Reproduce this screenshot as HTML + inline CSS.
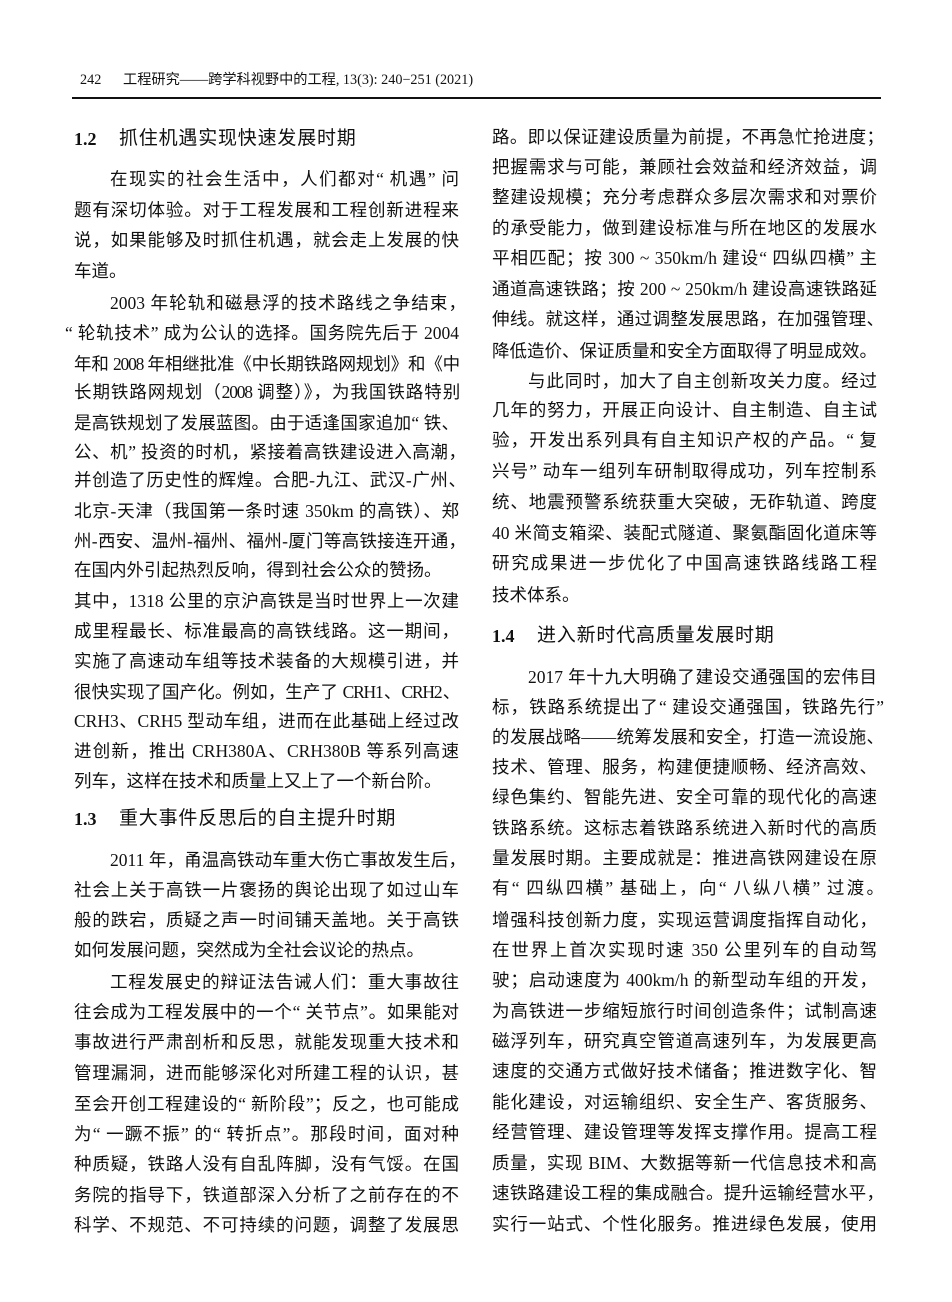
<!DOCTYPE html>
<html lang="zh-CN"><head><meta charset="utf-8"><style>
html,body{margin:0;padding:0;background:#fff}
body{position:relative;width:952px;height:1302px;overflow:hidden;color:#111;font-family:"Liberation Serif","Noto Sans CJK SC",sans-serif}
p{position:absolute;margin:0;height:30px;line-height:30px;font-size:17.5px;text-align:justify;text-align-last:justify;text-justify:inter-character;width:385px}
.a{left:74px}.b{left:492px}
.ai{left:110px;width:349px}.bi{left:528px;width:349px}
.x{width:392px}.ai.x,.bi.x{width:356px}
.e{text-align-last:left}
.t{letter-spacing:-1.2px}
.h{font-size:19px;letter-spacing:.8px;text-align-last:left}
.h b{position:absolute;left:0;font-size:18px;letter-spacing:0}
.h span{position:absolute;left:45px;white-space:nowrap}
</style></head><body>
<div style="position:absolute;left:80px;top:72px;font-size:14.2px;line-height:16px">242</div>
<div style="position:absolute;left:123px;top:72px;font-size:14.2px;line-height:16px;white-space:nowrap">工程研究——跨学科视野中的工程, 13(3): 240−251 (2021)</div>
<div style="position:absolute;left:72px;top:97px;width:809px;height:1.5px;background:#111"></div>

<p class="a h" style="top:124px"><b>1.2</b><span>抓住机遇实现快速发展时期</span></p>
<p class="ai" style="top:164px">在现实的社会生活中，人们都对“ 机遇” 问</p>
<p class="a" style="top:195px">题有深切体验。对于工程发展和工程创新进程来</p>
<p class="a" style="top:225px">说，如果能够及时抓住机遇，就会走上发展的快</p>
<p class="a e" style="top:256px">车道。</p>
<p class="ai x" style="top:288px">2003 年轮轨和磁悬浮的技术路线之争结束，</p>
<p style="left:65px;width:394px;top:318px">“ 轮轨技术” 成为公认的选择。国务院先后于 2004</p>
<p class="a t" style="top:349px">年和 2008 年相继批准《中长期铁路网规划》和《中</p>
<p class="a t" style="top:377px">长期铁路网规划（2008 调整）》，为我国铁路特别</p>
<p class="a" style="top:408px">是高铁规划了发展蓝图。由于适逢国家追加“ 铁、</p>
<p class="a x" style="top:437px">公、机” 投资的时机，紧接着高铁建设进入高潮，</p>
<p class="a x" style="top:465px">并创造了历史性的辉煌。合肥-九江、武汉-广州、</p>
<p class="a" style="top:496px">北京-天津（我国第一条时速 350km 的高铁）、郑</p>
<p class="a x" style="top:526px">州-西安、温州-福州、福州-厦门等高铁接连开通，</p>
<p class="a e" style="top:555px">在国内外引起热烈反响，得到社会公众的赞扬。</p>
<p class="a" style="top:586px">其中，1318 公里的京沪高铁是当时世界上一次建</p>
<p class="a" style="top:616px">成里程最长、标准最高的高铁线路。这一期间，</p>
<p class="a" style="top:646px">实施了高速动车组等技术装备的大规模引进，并</p>
<p class="a t" style="top:677px">很快实现了国产化。例如，生产了 CRH1、CRH2、</p>
<p class="a" style="top:706px">CRH3、CRH5 型动车组，进而在此基础上经过改</p>
<p class="a" style="top:736px">进创新，推出 CRH380A、CRH380B 等系列高速</p>
<p class="a e" style="top:766px">列车，这样在技术和质量上又上了一个新台阶。</p>

<p class="a h" style="top:804px"><b>1.3</b><span>重大事件反思后的自主提升时期</span></p>
<p class="ai x" style="top:845px">2011 年，甬温高铁动车重大伤亡事故发生后，</p>
<p class="a" style="top:875px">社会上关于高铁一片褒扬的舆论出现了如过山车</p>
<p class="a" style="top:905px">般的跌宕，质疑之声一时间铺天盖地。关于高铁</p>
<p class="a e" style="top:935px">如何发展问题，突然成为全社会议论的热点。</p>
<p class="ai" style="top:967px">工程发展史的辩证法告诫人们：重大事故往</p>
<p class="a" style="top:997px">往会成为工程发展中的一个“ 关节点”。如果能对</p>
<p class="a" style="top:1027px">事故进行严肃剖析和反思，就能发现重大技术和</p>
<p class="a" style="top:1058px">管理漏洞，进而能够深化对所建工程的认识，甚</p>
<p class="a" style="top:1089px">至会开创工程建设的“ 新阶段”；反之，也可能成</p>
<p class="a" style="top:1119px">为“ 一蹶不振” 的“ 转折点”。那段时间，面对种</p>
<p class="a" style="top:1149px">种质疑，铁路人没有自乱阵脚，没有气馁。在国</p>
<p class="a" style="top:1180px">务院的指导下，铁道部深入分析了之前存在的不</p>
<p class="a" style="top:1210px">科学、不规范、不可持续的问题，调整了发展思</p>

<p class="b x" style="top:122px">路。即以保证建设质量为前提，不再急忙抢进度；</p>
<p class="b" style="top:152px">把握需求与可能，兼顾社会效益和经济效益，调</p>
<p class="b" style="top:182px">整建设规模；充分考虑群众多层次需求和对票价</p>
<p class="b" style="top:213px">的承受能力，做到建设标准与所在地区的发展水</p>
<p class="b" style="top:243px">平相匹配；按 300 ~ 350km/h 建设“ 四纵四横” 主</p>
<p class="b" style="top:274px">通道高速铁路；按 200 ~ 250km/h 建设高速铁路延</p>
<p class="b x" style="top:304px">伸线。就这样，通过调整发展思路，在加强管理、</p>
<p class="b e" style="top:336px">降低造价、保证质量和安全方面取得了明显成效。</p>
<p class="bi" style="top:366px">与此同时，加大了自主创新攻关力度。经过</p>
<p class="b" style="top:395px">几年的努力，开展正向设计、自主制造、自主试</p>
<p class="b" style="top:425px">验，开发出系列具有自主知识产权的产品。“ 复</p>
<p class="b" style="top:456px">兴号” 动车一组列车研制取得成功，列车控制系</p>
<p class="b" style="top:487px">统、地震预警系统获重大突破，无砟轨道、跨度</p>
<p class="b" style="top:518px">40 米简支箱梁、装配式隧道、聚氨酯固化道床等</p>
<p class="b" style="top:548px">研究成果进一步优化了中国高速铁路线路工程</p>
<p class="b e" style="top:580px">技术体系。</p>

<p class="b h" style="top:621px"><b>1.4</b><span>进入新时代高质量发展时期</span></p>
<p class="bi" style="top:662px">2017 年十九大明确了建设交通强国的宏伟目</p>
<p class="b x" style="top:692px">标，铁路系统提出了“ 建设交通强国，铁路先行”</p>
<p class="b x" style="top:722px">的发展战略——统筹发展和安全，打造一流设施、</p>
<p class="b" style="top:752px">技术、管理、服务，构建便捷顺畅、经济高效、</p>
<p class="b" style="top:782px">绿色集约、智能先进、安全可靠的现代化的高速</p>
<p class="b" style="top:813px">铁路系统。这标志着铁路系统进入新时代的高质</p>
<p class="b" style="top:843px">量发展时期。主要成就是：推进高铁网建设在原</p>
<p class="b x" style="top:873px">有“ 四纵四横” 基础上，向“ 八纵八横” 过渡。</p>
<p class="b" style="top:905px">增强科技创新力度，实现运营调度指挥自动化，</p>
<p class="b" style="top:935px">在世界上首次实现时速 350 公里列车的自动驾</p>
<p class="b" style="top:965px">驶；启动速度为 400km/h 的新型动车组的开发，</p>
<p class="b" style="top:996px">为高铁进一步缩短旅行时间创造条件；试制高速</p>
<p class="b" style="top:1026px">磁浮列车，研究真空管道高速列车，为发展更高</p>
<p class="b" style="top:1056px">速度的交通方式做好技术储备；推进数字化、智</p>
<p class="b" style="top:1087px">能化建设，对运输组织、安全生产、客货服务、</p>
<p class="b" style="top:1117px">经营管理、建设管理等发挥支撑作用。提高工程</p>
<p class="b" style="top:1148px">质量，实现 BIM、大数据等新一代信息技术和高</p>
<p class="b x" style="top:1178px">速铁路建设工程的集成融合。提升运输经营水平，</p>
<p class="b" style="top:1209px">实行一站式、个性化服务。推进绿色发展，使用</p>
</body></html>
